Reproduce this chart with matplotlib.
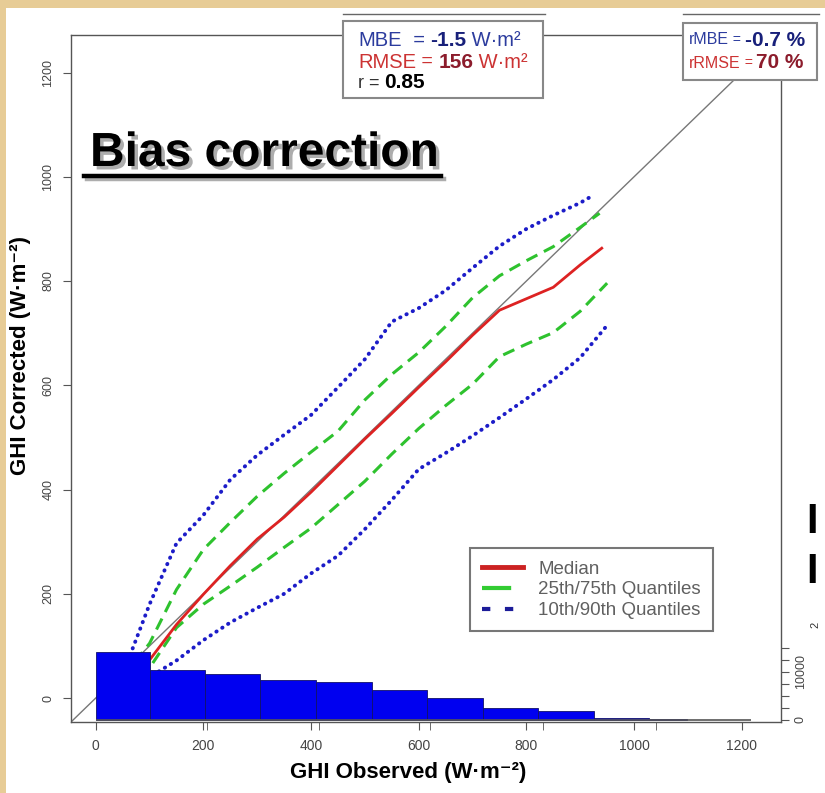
#Bias correction panel: quantile lines of corrected vs observed GHI plus histogram
import matplotlib
matplotlib.use('Agg')
from matplotlib import pyplot as plt
from matplotlib.patches import Rectangle
from matplotlib.lines import Line2D
import matplotlib.patheffects as pe

W, H = 825, 793
plt.rcParams['font.family'] = ['Liberation Sans', 'DejaVu Sans']

#Histogram of observed GHI (bin edges and counts)
hist_edges = [0, 100, 203, 306, 409, 513, 616, 719, 822, 925, 1028, 1098]
hist_counts = [14170, 10420, 9580, 8330, 7920, 6330, 4580, 2500, 1875, 500, 150]
hist_axis_ticks = [207, 414, 621, 830, 1040]

#Quantile curves
med_x = [50, 100, 150, 200, 250, 300, 350, 400, 450, 500, 550, 600, 650, 700, 750, 800, 850, 900, 940]
med_y = [20, 73, 141, 199, 254, 305, 347, 395, 446, 497, 546, 596, 645, 696, 744, 766, 788, 831, 863]
q75_x = [50, 100, 150, 200, 250, 300, 350, 400, 450, 500, 550, 600, 650, 700, 750, 800, 850, 900, 936]
q75_y = [40, 105, 208, 285, 337, 387, 431, 472, 512, 572, 621, 663, 713, 768, 810, 839, 866, 903, 930]
q25_x = [50, 100, 150, 200, 250, 300, 350, 400, 450, 500, 550, 600, 650, 700, 750, 800, 850, 900, 950]
q25_y = [20, 58, 135, 180, 215, 251, 289, 326, 371, 416, 468, 517, 561, 602, 655, 679, 701, 742, 796]
q90_x = [50, 100, 150, 200, 250, 300, 350, 400, 450, 500, 550, 600, 650, 700, 750, 800, 850, 900, 920]
q90_y = [45, 180, 297, 351, 419, 466, 505, 543, 596, 650, 722, 748, 782, 825, 867, 900, 926, 950, 962]
q10_x = [50, 100, 150, 200, 250, 300, 350, 400, 450, 500, 550, 600, 650, 700, 750, 800, 850, 900, 950]
q10_y = [10, 40, 72, 111, 145, 173, 200, 239, 273, 324, 380, 439, 470, 503, 538, 574, 611, 653, 715]

xticks = [0, 200, 400, 600, 800, 1000, 1200]
yticks = [0, 200, 400, 600, 800, 1000, 1200]
count_ticks = [0, 2500, 5000, 7500, 10000, 12500, 15000]
count_labels = ['0', '', '', '', '10000', '', '']

legend_labels = ['Median', '25th/75th Quantiles', '10th/90th Quantiles']
stats_left = [[('MBE', '#2c3c9e', 'normal', 14.5), ('  = ', '#2c3c9e', 'normal', 14.5),
               ('-1.5', '#18207a', 'bold', 15), (' W·m²', '#2c3c9e', 'normal', 14.5)],
              [('RMSE', '#cc3333', 'normal', 14.5), (' = ', '#cc3333', 'normal', 14),
               ('156', '#8c1c2c', 'bold', 15), (' W·m²', '#cc3333', 'normal', 14.5)],
              [('r = ', '#333333', 'normal', 13), ('0.85', 'black', 'bold', 15)]]
stats_right = [[('rMBE', '#2c3c9e', 'normal', 11.5), (' = ', '#2c3c9e', 'normal', 10),
                ('-0.7 %', '#18207a', 'bold', 15)],
               [('rRMSE', '#cc3333', 'normal', 11.5), (' = ', '#cc3333', 'normal', 10),
                ('70 %', '#8c1c2c', 'bold', 15)]]

fig = plt.figure(figsize=(W / 100, H / 100), dpi=100, facecolor='#e7cc96')
#white sheet pasted on the tan background
fig.add_artist(Rectangle((6 / W, 0), 1, 1 - 8 / H, transform=fig.transFigure,
                         facecolor='white', edgecolor='none', zorder=-10))

ax = fig.add_axes([71 / W, 1 - 722 / H, 710 / W, 687 / H])
ax.set_facecolor('white')
ax.set_xlim(-46, 1273)
ax.set_ylim(-46, 1272)

#1:1 line
ax.plot([-46, 1273], [-46, 1273], color='#777777', lw=1, zorder=1)

ax.plot(q90_x, q90_y, color='#1c1cc8', lw=2.8, linestyle=(0, (0.1, 1.7)),
        dash_capstyle='round', zorder=2)
ax.plot(q10_x, q10_y, color='#1c1cc8', lw=2.8, linestyle=(0, (0.1, 1.7)),
        dash_capstyle='round', zorder=2)
ax.plot(q75_x, q75_y, color='#2ec22e', lw=2.2, linestyle=(0, (4, 2.4)), zorder=3)
ax.plot(q25_x, q25_y, color='#2ec22e', lw=2.2, linestyle=(0, (4, 2.4)), zorder=3)
ax.plot(med_x, med_y, color='#dd2222', lw=2, zorder=4)

ax.set_xticks(xticks)
ax.set_yticks(yticks)
ax.set_xticks(hist_axis_ticks, minor=True)
ax.tick_params(axis='both', which='both', direction='out', length=6, color='#555555',
               labelcolor='#444444', labelsize=10, pad=6)
ax.tick_params(axis='y', labelrotation=90, labelsize=9)
for lab in ax.get_yticklabels():
    lab.set_va('center')
for s in ax.spines.values():
    s.set_color('#555555')
    s.set_linewidth(1)

#histogram on its own count scale
ax2 = ax.twinx()
ax2.set_ylim(-417, 142700)
widths = [hist_edges[i + 1] - hist_edges[i] for i in range(len(hist_counts))]
ax2.bar(hist_edges[:-1], hist_counts, width=widths, align='edge',
        color='#0000f0', edgecolor='#10106a', linewidth=0.6)
ax2.hlines(0, 0, 1217, color='#555555', lw=1.2)
ax2.set_yticks(count_ticks)
ax2.set_yticklabels(count_labels)
ax2.tick_params(axis='y', direction='out', length=6, color='#555555',
                labelcolor='#444444', labelsize=9, labelrotation=90, pad=4)
for lab in ax2.get_yticklabels():
    lab.set_va('center')
for s in ax2.spines.values():
    s.set_visible(False)

#legend
handles = [Line2D([], [], color='#cc2222', lw=3.5),
           Line2D([], [], color='#33cc33', lw=3, linestyle=(0, (7, 4))),
           Line2D([], [], color='#1c1c99', lw=3, linestyle=(0, (2, 3.5)))]
leg = ax2.legend(handles, legend_labels, loc='upper left', bbox_to_anchor=(0.562, 0.253),
                 borderaxespad=0, fontsize=13.5, labelcolor='#606060', frameon=True,
                 fancybox=False, edgecolor='#555555', handlelength=2.2,
                 handletextpad=0.8, borderpad=0.65, labelspacing=0.2)
leg.get_frame().set_linewidth(1.5)

narrow = ['Liberation Sans Narrow', 'Liberation Sans', 'DejaVu Sans']
ax.set_xlabel('GHI Observed (W·m⁻²)', fontsize=16, fontweight='bold', family=narrow)
ax.xaxis.set_label_coords(0.475, -0.058)
ax.set_ylabel('GHI Corrected (W·m⁻²)', fontsize=16, fontweight='bold', family=narrow)
ax.yaxis.set_label_coords(-0.056, 0.534)

#title with drop shadow and underline
shadow = [pe.SimplePatchShadow(offset=(2.5, -2.5), shadow_rgbFace='#777777', alpha=0.6),
          pe.Normal()]
fig.text(90 / W, 1 - 166 / H, 'Bias correction', fontsize=34.5, fontweight='bold',
         va='baseline', ha='left', path_effects=shadow)
fig.add_artist(Line2D([84 / W, 441 / W], [1 - 176 / H, 1 - 176 / H], color='black',
                      lw=3.2, transform=fig.transFigure, path_effects=[
                          pe.SimpleLineShadow(offset=(2.5, -2.5), shadow_color='#777777', alpha=0.6),
                          pe.Normal()]))

#statistics boxes
for x0, x1, y0, y1 in [(343, 543, 21, 98), (683, 817, 23, 80)]:
    fig.add_artist(Rectangle((x0 / W, 1 - y1 / H), (x1 - x0) / W, (y1 - y0) / H,
                             transform=fig.transFigure, facecolor='white',
                             edgecolor='#888888', lw=1.5, zorder=4))
    fig.add_artist(Line2D([x0 / W, (x1 + 2) / W], [1 - 14 / H, 1 - 14 / H],
                          color='#666666', lw=1, transform=fig.transFigure))

renderer = fig.canvas.get_renderer()


def put_pieces(x_px, y_px, pieces):
    x = x_px
    for s, c, w, size in pieces:
        t = fig.text(x / W, 1 - y_px / H, s, color=c, fontweight=w, fontsize=size,
                     va='center', ha='left', zorder=6)
        x += t.get_window_extent(renderer=renderer).width


for row, y in zip(stats_left, [40, 62, 83]):
    put_pieces(358, y, row)
for row, y in zip(stats_right, [40, 63]):
    put_pieces(689, y, row)

#edge of the neighbouring panel
fig.text(806 / W, 1 - 522 / H, 'I', fontsize=30, fontweight='bold', va='center')
fig.text(806 / W, 1 - 572 / H, 'I', fontsize=30, fontweight='bold', va='center')
fig.text(810 / W, 1 - 625 / H, '2', fontsize=8, rotation=90, va='center', color='#333333')

fig.savefig('out.png', dpi=100, facecolor=fig.get_facecolor())
